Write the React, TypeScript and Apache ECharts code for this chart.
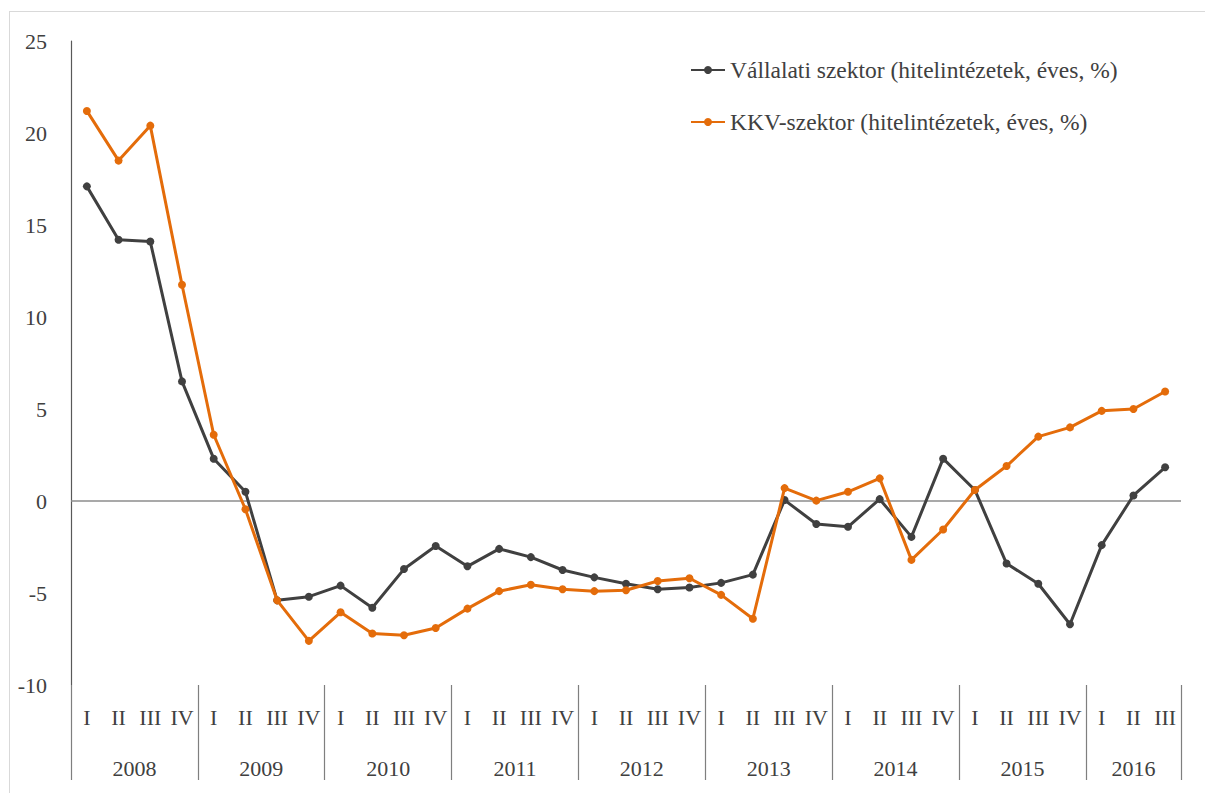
import React, { useEffect, useRef } from "react";
import * as echarts from "echarts";

const quarterLabels = [
  "I", "II", "III", "IV", "I", "II", "III", "IV", "I", "II", "III", "IV",
  "I", "II", "III", "IV", "I", "II", "III", "IV", "I", "II", "III", "IV",
  "I", "II", "III", "IV", "I", "II", "III", "IV", "I", "II", "III",
];
const years = ["2008", "2009", "2010", "2011", "2012", "2013", "2014", "2015", "2016"];
const quartersPerYear = [4, 4, 4, 4, 4, 4, 4, 4, 3];

const seriesNames = [
  "Vállalati szektor (hitelintézetek, éves, %)",
  "KKV-szektor (hitelintézetek, éves, %)",
];

const corporate = [
  17.1, 14.2, 14.1, 6.5,
  2.3, 0.5, -5.4, -5.2,
  -4.6, -5.8, -3.7, -2.45,
  -3.55, -2.6, -3.05, -3.75,
  -4.15, -4.5, -4.8, -4.7,
  -4.45, -4.0, 0.05, -1.25,
  -1.4, 0.1, -1.95, 2.3,
  0.6, -3.4, -4.5, -6.7,
  -2.4, 0.3, 1.83,
];
const sme = [
  21.2, 18.5, 20.4, 11.75,
  3.6, -0.45, -5.4, -7.6,
  -6.05, -7.2, -7.3, -6.9,
  -5.85, -4.9, -4.55, -4.8,
  -4.9, -4.85, -4.35, -4.2,
  -5.1, -6.4, 0.7, 0.02,
  0.5, 1.23, -3.2, -1.55,
  0.6, 1.9, 3.5, 4.0,
  4.9, 5.0, 5.95,
];

const yMin = -10;
const yMax = 25;
const yStep = 5;

const FONT = "Liberation Serif";
const TEXT = "#404040";

export default function App() {
  const ref = useRef<HTMLDivElement>(null);
  useEffect(() => {
    if (!ref.current) return;
    const chart = echarts.init(ref.current, undefined, { renderer: "svg" });

    const boundaries: number[] = [0];
    const centers: number[] = [];
    let acc = 0;
    quartersPerYear.forEach((q) => {
      centers.push(acc + q / 2);
      acc += q;
      boundaries.push(acc);
    });
    const total = acc;

    chart.setOption({
      animation: false,
      textStyle: { fontFamily: FONT },
      graphic: [
        { type: "line", shape: { x1: 9.5, y1: 11, x2: 9.5, y2: 793 }, style: { stroke: "#d9d9d9", lineWidth: 1 } },
        { type: "line", shape: { x1: 9, y1: 11.5, x2: 1205, y2: 11.5 }, style: { stroke: "#d9d9d9", lineWidth: 1 } },
      ],
      legend: {
        orient: "vertical",
        left: 685,
        top: 53,
        itemGap: 28,
        itemWidth: 34,
        itemHeight: 10,
        textStyle: { fontFamily: FONT, fontSize: 23.5, color: TEXT },
        data: seriesNames,
      },
      grid: { left: 71, right: 24, top: 41, bottom: 108, containLabel: false },
      xAxis: [
        {
          type: "category",
          data: quarterLabels,
          boundaryGap: true,
          axisLine: { show: false, onZero: false },
          axisTick: { show: false },
          axisLabel: { interval: 0, margin: 21, fontFamily: FONT, fontSize: 22, color: TEXT },
          splitLine: { show: false },
        },
        {
          type: "value",
          min: 0,
          max: total,
          position: "bottom",
          axisLine: { show: false, onZero: false },
          splitLine: { show: false },
          axisTick: {
            show: true,
            customValues: boundaries,
            length: 95,
            lineStyle: { color: "#7f7f7f", width: 1.2 },
          },
          axisLabel: {
            show: true,
            customValues: centers,
            margin: 72,
            fontFamily: FONT,
            fontSize: 22,
            color: TEXT,
            formatter: (v: number) => {
              const i = centers.findIndex((c) => Math.abs(c - v) < 1e-6);
              return i >= 0 ? years[i] : "";
            },
          },
        },
      ],
      yAxis: {
        type: "value",
        min: yMin,
        max: yMax,
        interval: yStep,
        axisLine: { show: true, onZero: false, lineStyle: { color: "#595959", width: 1.2 } },
        axisTick: { show: false },
        splitLine: { show: false },
        axisLabel: { margin: 24, fontFamily: FONT, fontSize: 22, color: TEXT },
      },
      series: [
        {
          name: seriesNames[0],
          type: "line",
          data: corporate,
          xAxisIndex: 0,
          color: "#404040",
          symbol: "circle",
          symbolSize: 8,
          lineStyle: { width: 3, color: "#404040" },
          itemStyle: { color: "#404040" },
          markLine: {
            silent: true,
            symbol: "none",
            label: { show: false },
            lineStyle: { color: "#8c8c8c", width: 1.5, type: "solid" },
            data: [{ yAxis: 0 }],
            z: 1,
          },
          z: 3,
        },
        {
          name: seriesNames[1],
          type: "line",
          data: sme,
          xAxisIndex: 0,
          color: "#E46C0A",
          symbol: "circle",
          symbolSize: 8,
          lineStyle: { width: 3, color: "#E46C0A" },
          itemStyle: { color: "#E46C0A" },
          z: 4,
        },
      ],
    });
    return () => chart.dispose();
  }, []);
  return (
    <div
      ref={ref}
      style={{ position: "fixed", left: 0, top: 0, width: 1205, height: 793, background: "#fff" }}
    />
  );
}
